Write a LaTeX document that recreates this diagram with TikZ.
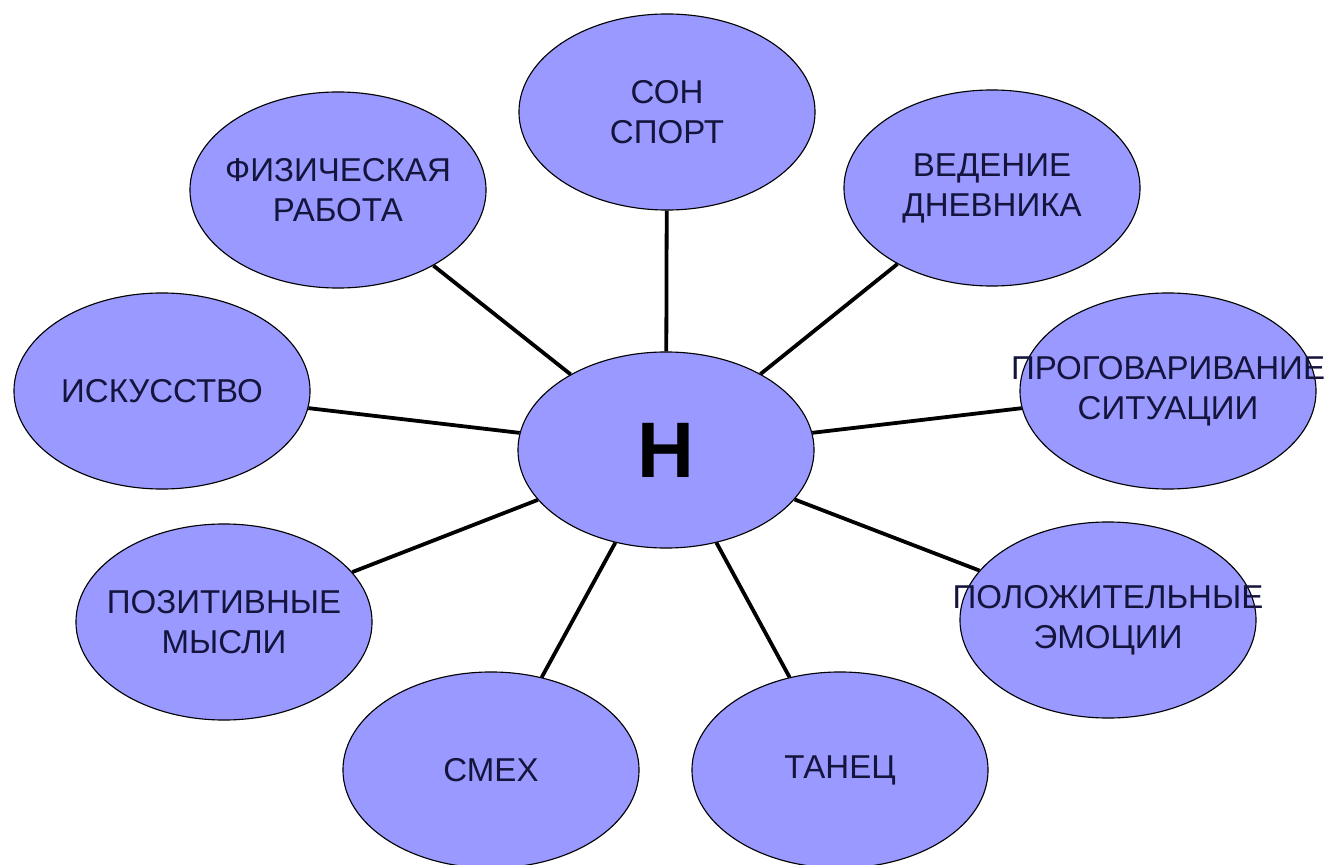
\documentclass[tikz,border=0pt]{standalone}
\usepackage{fontspec}
\setmainfont{Liberation Sans}
\usetikzlibrary{shapes.geometric}
\definecolor{bubblefill}{HTML}{9999FF}
\definecolor{bubbletext}{HTML}{14143C}

\begin{document}
\begin{tikzpicture}[x=0.025cm,y=-0.025cm]

      \useasboundingbox (0,0) rectangle (1327,865);

      \begin{scope}[every node/.style={ellipse, draw=black, line width=0.8pt, fill=bubblefill,
          minimum width=7.4cm, minimum height=4.9cm, inner sep=0pt},
          every label/.style={rectangle, draw=none, fill=none, minimum width=0pt, minimum height=0pt,
          align=center, text=bubbletext, font=\fontsize{23.5}{28.5}\selectfont}]
        \node (0) at (666,450) {\fontsize{56}{60}\selectfont\bfseries H};
        \node[label=center:{СОН\\СПОРТ}] (1) at (667,112) {};
        \node[label=center:{ФИЗИЧЕСКАЯ\\РАБОТА}] (2) at (338,190) {};
        \node[label=center:{ВЕДЕНИЕ\\ДНЕВНИКА}] (3) at (992,188) {};
        \node[label=center:{ИСКУССТВО}] (4) at (162,391) {};
        \node[label=center:{ПРОГОВАРИВАНИЕ\\СИТУАЦИИ}] (5) at (1168,391) {};
        \node[label=center:{ПОЗИТИВНЫЕ\\МЫСЛИ}] (6) at (224,622) {};
        \node[label=center:{ПОЛОЖИТЕЛЬНЫЕ\\ЭМОЦИИ}] (7) at (1108,620) {};
        \node[label=center:{СМЕХ}] (8) at (491,770) {};
        \node[label=center:{ТАНЕЦ}] (9) at (840,770) {};
      \end{scope}

      \begin{scope}[every edge/.style={draw, line width=2.7pt}]
        \path (0) edge (1);
        \path (0) edge (2);
        \path (0) edge (3);
        \path (0) edge (4);
        \path (0) edge (5);
        \path (0) edge (6);
        \path (0) edge (7);
        \path (0) edge (8);
        \path (0) edge (9);
      \end{scope}

    \end{tikzpicture}
\end{document}
